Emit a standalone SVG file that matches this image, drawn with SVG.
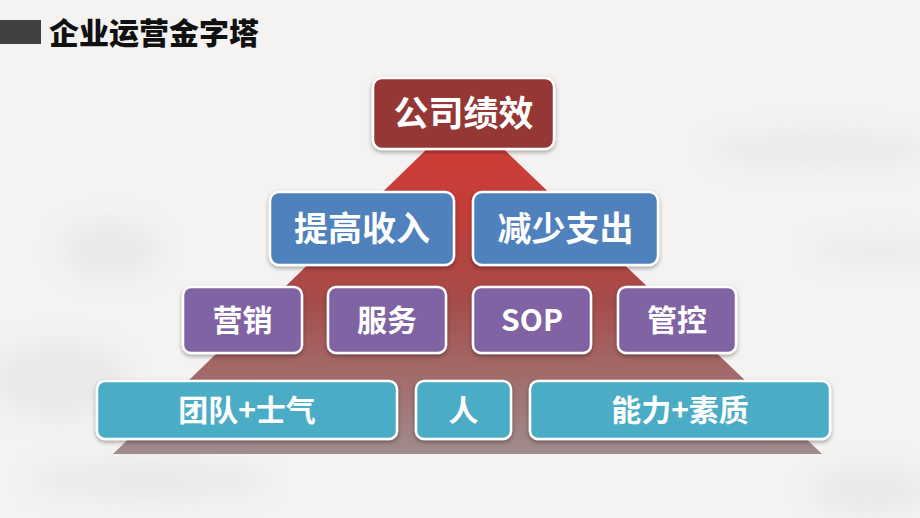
<svg xmlns="http://www.w3.org/2000/svg" width="920" height="518" viewBox="0 0 920 518">
<defs>
<linearGradient id="pyr" x1="0" y1="112" x2="0" y2="454" gradientUnits="userSpaceOnUse">
<stop offset="0" stop-color="#d63d38"/>
<stop offset="0.3" stop-color="#c23d38"/>
<stop offset="0.55" stop-color="#a54c4b"/>
<stop offset="1" stop-color="#a08c8d"/>
</linearGradient>
<filter id="sh" x="-10%" y="-20%" width="120%" height="150%">
<feDropShadow dx="0" dy="2" stdDeviation="2" flood-color="#000" flood-opacity="0.35"/>
</filter>
<filter id="ink" x="-50%" y="-50%" width="200%" height="200%">
<feGaussianBlur stdDeviation="12"/>
</filter>
<style>
.box{stroke:#fff;stroke-width:2.5;filter:url(#sh)}
.red{fill:#953735}
.blue{fill:#4f81bd}
.purple{fill:#8064a2}
.teal{fill:#4bacc6}
.t{font-family:"Noto Sans CJK SC","Noto Sans",sans-serif;font-weight:700;fill:#fff;text-anchor:middle}
.title{font-family:"Noto Sans CJK SC","Noto Sans",sans-serif;font-weight:900;fill:#111;font-size:30px}
</style>
</defs>
<rect width="920" height="518" fill="#f4f3f2"/>
<g opacity="0.2" filter="url(#ink)" fill="#c8c6c4">
<ellipse cx="820" cy="150" rx="110" ry="18"/>
<ellipse cx="880" cy="250" rx="70" ry="12"/>
<ellipse cx="110" cy="250" rx="50" ry="30"/>
<ellipse cx="60" cy="380" rx="70" ry="40"/>
<ellipse cx="150" cy="480" rx="120" ry="20"/>
<ellipse cx="870" cy="490" rx="60" ry="25"/>
</g>
<g id="title">
<rect x="0" y="20" width="41" height="24" fill="#404040"/>
<text class="title" x="49" y="44">企业运营金字塔</text>
</g>
<g id="pyramid">
<polygon points="465,112 113,454 822,454" fill="url(#pyr)"/>
</g>
<g id="n-gongsijixiao">
<rect class="box red" x="373" y="78" width="181" height="71" rx="9"/>
<text class="t" x="463.5" y="126" font-size="35">公司绩效</text>
</g>
<g id="n-tigaoshouru">
<rect class="box blue" x="270" y="192" width="184" height="73" rx="9"/>
<text class="t" x="362" y="241" font-size="34">提高收入</text>
</g>
<g id="n-jianshaozhichu">
<rect class="box blue" x="473" y="192" width="185" height="73" rx="9"/>
<text class="t" x="565.5" y="241" font-size="34">减少支出</text>
</g>
<g id="n-yingxiao">
<rect class="box purple" x="183" y="287" width="119" height="66" rx="8"/>
<text class="t" x="242.5" y="331" font-size="30">营销</text>
</g>
<g id="n-fuwu">
<rect class="box purple" x="328" y="287" width="118" height="66" rx="8"/>
<text class="t" x="387" y="331" font-size="30">服务</text>
</g>
<g id="n-sop">
<rect class="box purple" x="473" y="287" width="118" height="66" rx="8"/>
<text class="t" x="532" y="331" font-size="30">SOP</text>
</g>
<g id="n-guankong">
<rect class="box purple" x="618" y="287" width="118" height="66" rx="8"/>
<text class="t" x="677" y="331" font-size="30">管控</text>
</g>
<g id="n-tuandui">
<rect class="box teal" x="97" y="381" width="300" height="58" rx="8"/>
<text class="t" x="247" y="421" font-size="30">团队+士气</text>
</g>
<g id="n-ren">
<rect class="box teal" x="416" y="381" width="95" height="58" rx="8"/>
<text class="t" x="463.5" y="421" font-size="30">人</text>
</g>
<g id="n-nengli">
<rect class="box teal" x="530" y="381" width="300" height="58" rx="8"/>
<text class="t" x="680" y="421" font-size="30">能力+素质</text>
</g>
<g id="connectors"/>
</svg>
